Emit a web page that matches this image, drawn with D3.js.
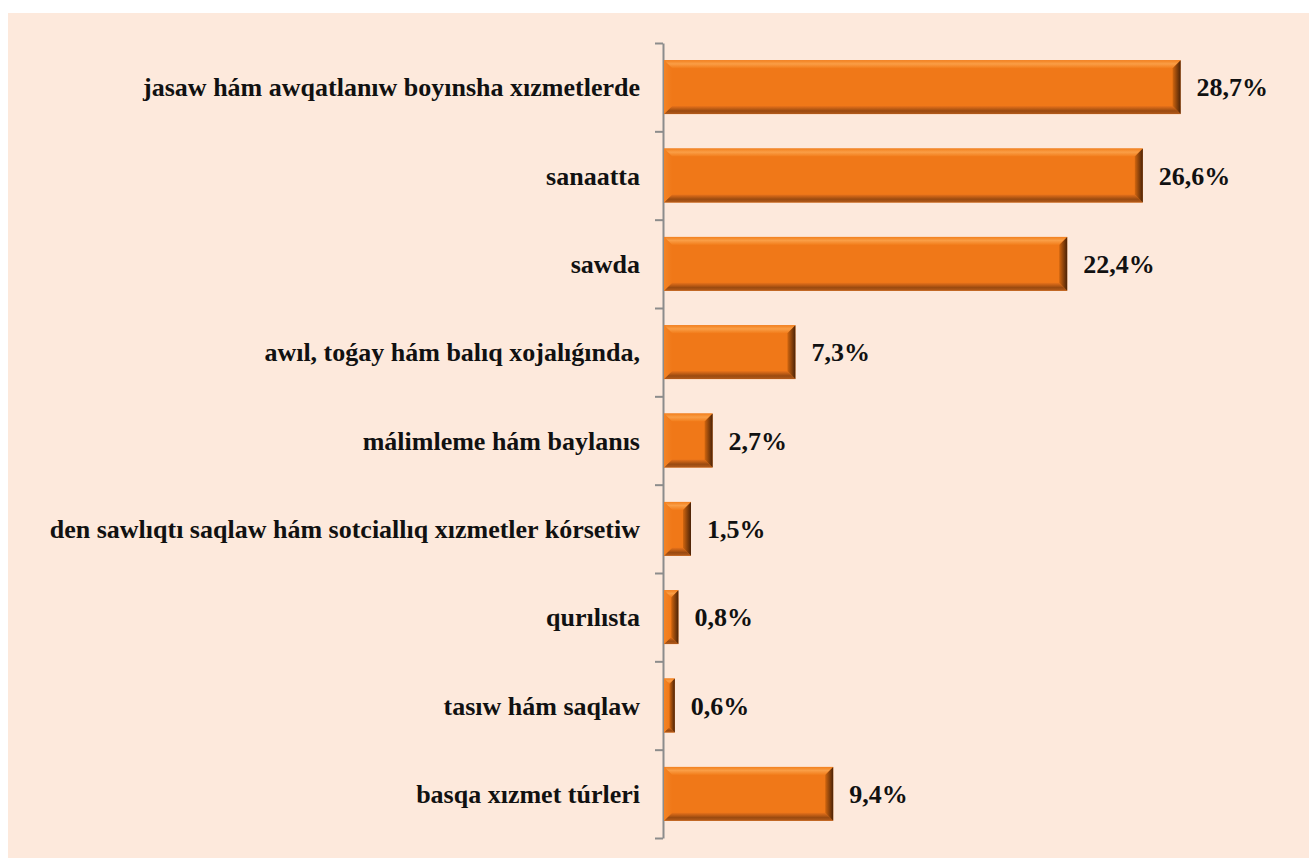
<!DOCTYPE html>
<html>
<head>
<meta charset="utf-8">
<script src="https://d3js.org/d3.v7.min.js"></script>
<style>
  body { margin: 0; background: #fff; }
  svg { display: block; }
</style>
</head>
<body>
<div class="holder"></div>
<script>
// chart values
var categories = [
  "jasaw hám awqatlanıw boyınsha xızmetlerde",
  "sanaatta",
  "sawda",
  "awıl, toǵay hám balıq xojalıǵında,",
  "málimleme hám baylanıs",
  "den sawlıqtı saqlaw hám sotciallıq xızmetler kórsetiw",
  "qurılısta",
  "tasıw hám saqlaw",
  "basqa xızmet túrleri"
];
var values = [28.7, 26.6, 22.4, 7.3, 2.7, 1.5, 0.8, 0.6, 9.4];
var valueLabels = ["28,7%", "26,6%", "22,4%", "7,3%", "2,7%", "1,5%", "0,8%", "0,6%", "9,4%"];

var chartW = 1309, chartH = 858;
var axisX = 663;
var plotTop = 43, plotBottom = 838;
var bevel = 8;

var chart = d3.select(".holder")
  .append("svg")
  .attr("width", chartW)
  .attr("height", chartH);

var defs = chart.append("defs");
function grad(id, x2, y2, stops) {
  var g = defs.append("linearGradient").attr("id", id)
    .attr("x1", 0).attr("y1", 0).attr("x2", x2).attr("y2", y2);
  stops.forEach(function(s) {
    g.append("stop").attr("offset", s[0]).attr("stop-color", s[1]);
  });
}
grad("gTop", 0, 1, [[0, "#f2801e"], [0.45, "#fa9e46"], [1, "#f27c1a"]]);
grad("gBottom", 0, 1, [[0, "#e8721a"], [0.6, "#9a4a10"], [1, "#b45c1c"]]);
grad("gRight", 1, 0, [[0, "#d2660f"], [1, "#4a2207"]]);
grad("gLeft", 1, 0, [[0, "#f38426"], [1, "#f07818"]]);

// background panel
chart.append("rect")
  .attr("x", 8).attr("y", 13)
  .attr("width", chartW - 8).attr("height", chartH - 13)
  .style("fill", "#fde9dc");

var x = d3.scaleLinear().domain([0, 30]).range([axisX + 1, axisX + 1 + 30 * 18.0]);
var y = d3.scaleBand().domain(categories).range([plotTop, plotBottom])
  .paddingInner(0.39).paddingOuter(0.195);
var tickScale = d3.scaleLinear().domain([0, categories.length]).range([plotTop, plotBottom]);

// left axis with ticks at category boundaries
var axis = chart.append("g")
  .attr("transform", "translate(" + axisX + ",0)")
  .call(d3.axisLeft(tickScale).tickValues(d3.range(categories.length + 1))
    .tickSize(8).tickSizeOuter(0).tickFormat(""));
axis.selectAll("path, line").style("stroke", "#8c8c8c").style("stroke-width", 2);

// bevelled bars
var bars = chart.selectAll("g.bar")
  .data(values)
  .enter().append("g")
  .attr("class", "bar");

bars.each(function(v, i) {
  var g = d3.select(this);
  var x0 = x(0), x1 = x(v);
  var y0 = y(categories[i]), y1 = y0 + y.bandwidth();
  var b = Math.min(bevel, (x1 - x0) / 2, (y1 - y0) / 2);
  g.append("rect")
    .attr("x", x0).attr("y", y0)
    .attr("width", x1 - x0).attr("height", y1 - y0)
    .style("fill", "#f07818");
  var polys = [
    [[x0, y0], [x1, y0], [x1 - b, y0 + b], [x0 + b, y0 + b], "url(#gTop)"],
    [[x0, y1], [x1, y1], [x1 - b, y1 - b], [x0 + b, y1 - b], "url(#gBottom)"],
    [[x0, y0], [x0 + b, y0 + b], [x0 + b, y1 - b], [x0, y1], "url(#gLeft)"],
    [[x1, y0], [x1 - b, y0 + b], [x1 - b, y1 - b], [x1, y1], "url(#gRight)"]
  ];
  polys.forEach(function(p) {
    g.append("polygon")
      .attr("points", p.slice(0, 4).map(function(pt) { return pt.join(","); }).join(" "))
      .style("fill", p[4]);
  });
});

// category labels
chart.selectAll("text.cat")
  .data(categories)
  .enter().append("text")
  .attr("class", "cat")
  .attr("x", axisX - 23)
  .attr("y", function(d) { return y(d) + y.bandwidth() / 2; })
  .attr("dy", "0.35em")
  .attr("text-anchor", "end")
  .style("font-family", "'Liberation Serif', 'Times New Roman', serif")
  .style("font-weight", "bold")
  .style("font-size", "26px")
  .style("fill", "#111")
  .text(function(d) { return d; });

// value labels
chart.selectAll("text.val")
  .data(values)
  .enter().append("text")
  .attr("class", "val")
  .attr("x", function(d) { return x(d) + 16; })
  .attr("y", function(d, i) { return y(categories[i]) + y.bandwidth() / 2; })
  .attr("dy", "0.35em")
  .style("font-family", "'Liberation Serif', 'Times New Roman', serif")
  .style("font-weight", "bold")
  .style("font-size", "26px")
  .style("fill", "#111")
  .text(function(d, i) { return valueLabels[i]; });
</script>
</body>
</html>
